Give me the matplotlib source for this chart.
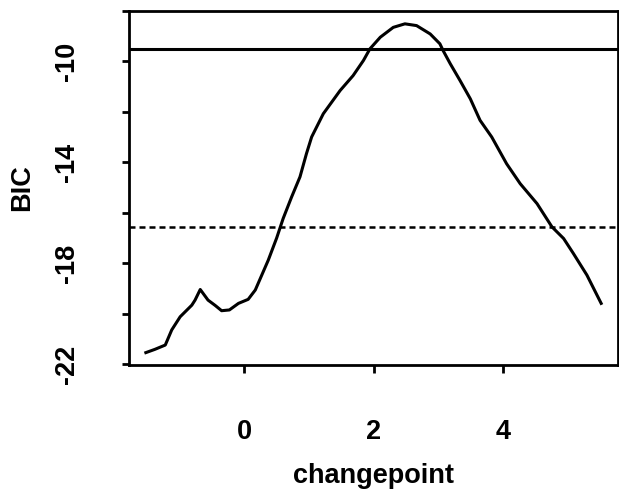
import matplotlib
matplotlib.use("Agg")
import matplotlib.pyplot as plt

# BIC curve over changepoint location
changepoint = [-1.52, -1.38, -1.22, -1.12, -0.99, -0.81, -0.76, -0.68, -0.56, -0.45,
               -0.35, -0.23, -0.09, 0.06, 0.17, 0.27, 0.37, 0.50, 0.60, 0.73,
               0.86, 0.96, 1.04, 1.22, 1.48, 1.68, 1.84, 1.94, 2.10, 2.30,
               2.48, 2.66, 2.87, 3.02, 3.07, 3.18, 3.33, 3.49, 3.64, 3.82,
               4.05, 4.26, 4.52, 4.75, 4.93, 5.08, 5.29, 5.51]
bic = [-21.54, -21.41, -21.24, -20.64, -20.12, -19.66, -19.46, -19.04, -19.46, -19.67,
       -19.88, -19.85, -19.59, -19.43, -19.06, -18.47, -17.88, -17.00, -16.23, -15.38,
       -14.58, -13.66, -13.00, -12.08, -11.16, -10.57, -9.97, -9.51, -9.05, -8.66,
       -8.52, -8.59, -8.92, -9.31, -9.58, -10.10, -10.76, -11.49, -12.34, -13.00,
       -14.06, -14.85, -15.64, -16.56, -17.02, -17.61, -18.47, -19.59]

solid_level = -9.5
dotted_level = -16.55

x_ticks = [0, 2, 4]
y_ticks = [-22, -20, -18, -16, -14, -12, -10, -8]
y_labels = ["-22", "", "-18", "", "-14", "", "-10", ""]

plt.rcParams['font.family'] = ['Liberation Sans', 'DejaVu Sans']
plt.rcParams['font.weight'] = 'bold'

fig = plt.figure(figsize=(6.19, 4.93), dpi=100)
ax = fig.add_axes([129 / 619, 1 - 365 / 493, 489 / 619, 354.3 / 493])

ax.plot(changepoint, bic, color='black', lw=2.2, solid_joinstyle='round')
ax.axhline(solid_level, color='black', lw=2.2)
ax.axhline(dotted_level, color='black', lw=1.8, linestyle=(0, (2.4, 1.6)))

ax.set_xlim(-1.78, 5.77)
ax.set_ylim(-22.03, -8.02)

ax.set_xticks(x_ticks)
ax.set_xticklabels([str(v) for v in x_ticks])
ax.set_yticks(y_ticks)
ax.set_yticklabels(y_labels, rotation=90, va='center')

ax.tick_params(axis='x', length=6, width=2, pad=33, labelsize=19.5)
ax.tick_params(axis='y', length=5, width=2, pad=30, labelsize=19.5)

for s in ax.spines.values():
    s.set_linewidth(2)

ax.set_xlabel('changepoint', fontsize=19.5, fontweight='bold')
ax.set_ylabel('BIC', fontsize=19.5, fontweight='bold')
ax.xaxis.set_label_coords(0.5, -0.313)
ax.yaxis.set_label_coords(-0.219, 0.5)
ax.xaxis.label.set_va('center')
ax.yaxis.label.set_va('center')

fig.savefig('out.png', dpi=100)
